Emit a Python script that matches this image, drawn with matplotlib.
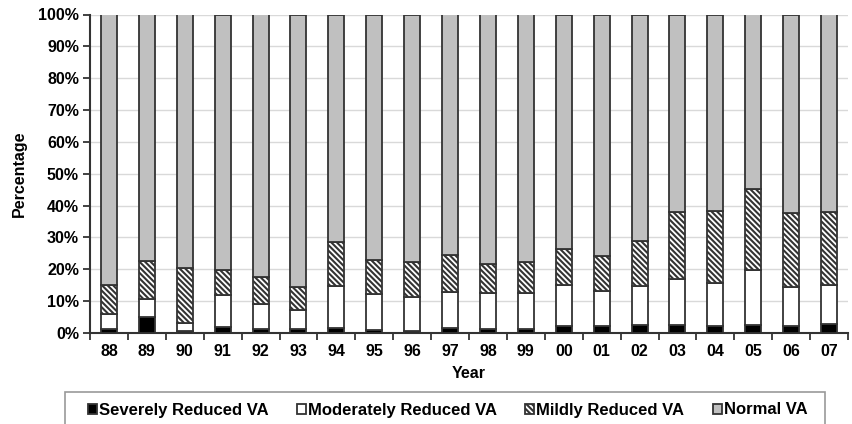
import matplotlib
matplotlib.use("Agg")
import matplotlib.pyplot as plt
from matplotlib.patches import Rectangle
import numpy as np

plt.rcParams['font.family'] = ['Liberation Sans', 'DejaVu Sans']
plt.rcParams['hatch.linewidth'] = 1.5
plt.rcParams['hatch.color'] = '#222222'

years = ["88", "89", "90", "91", "92", "93", "94", "95", "96", "97",
         "98", "99", "00", "01", "02", "03", "04", "05", "06", "07"]
# cumulative tops (%)
severe_top = [1.2, 4.9, 0.7, 1.8, 1.2, 1.1, 1.5, 0.9, 0.7, 1.5,
              1.3, 1.4, 2.1, 2.2, 2.4, 2.4, 2.2, 2.4, 2.2, 2.7]
moderate_top = [6.0, 10.6, 3.0, 11.8, 9.0, 7.2, 14.8, 12.2, 11.4, 12.8,
                12.5, 12.7, 15.1, 13.3, 14.8, 16.9, 15.8, 19.8, 14.4, 15.1]
mild_top = [15.1, 22.7, 20.5, 19.8, 17.6, 14.5, 28.7, 22.9, 22.2, 24.5,
            21.7, 22.3, 26.4, 24.2, 29.0, 37.9, 38.3, 45.2, 37.8, 38.1]

severe = np.array(severe_top)
moderate = np.array(moderate_top) - np.array(severe_top)
mild = np.array(mild_top) - np.array(moderate_top)
normal = 100 - np.array(mild_top)

fig = plt.figure(figsize=(8.52, 4.24), dpi=100)
ax = fig.add_axes([90/852, 1-333/424, (848-90)/852, (333-14.5)/424])

x = np.arange(len(years))
w = 0.42
ec = '#333333'
lw = 1.3
b1 = ax.bar(x, severe, w, color='black', edgecolor=ec, linewidth=lw, label='Severely Reduced VA', zorder=3)
b2 = ax.bar(x, moderate, w, bottom=severe, color='white', edgecolor=ec, linewidth=lw, label='Moderately Reduced VA', zorder=3)
b3 = ax.bar(x, mild, w, bottom=severe+moderate, color='white', edgecolor=ec, linewidth=lw, hatch='\\\\\\\\\\\\', label='Mildly Reduced VA', zorder=3)
b4 = ax.bar(x, normal, w, bottom=severe+moderate+mild, color='#c0c0c0', edgecolor=ec, linewidth=lw, label='Normal VA', zorder=3)

ax.set_xlim(-0.5, len(years)-0.5)
ax.set_ylim(0, 100)
ax.set_yticks(np.arange(0, 101, 10))
ax.set_yticklabels([f"{v}%" for v in range(0, 101, 10)], fontsize=11.5, fontweight='bold')
ax.set_xticks(x)
ax.set_xticklabels(years, fontsize=11.5, fontweight='bold')
ax.tick_params(axis='x', which='major', length=0, pad=8)
ax.set_xticks(np.arange(-0.5, len(years), 1), minor=True)
ax.tick_params(axis='x', which='minor', length=5, width=1.3, color='#333333')
ax.tick_params(axis='y', length=5, width=1.3, color='#333333', pad=3)
ax.yaxis.grid(True, color='#d9d9d9', linewidth=1.0, zorder=0)
ax.set_axisbelow(True)
for s in ['top', 'right']:
    ax.spines[s].set_visible(False)
for s in ['left', 'bottom']:
    ax.spines[s].set_color('#333333')
    ax.spines[s].set_linewidth(1.5)

ax.set_ylabel('Percentage', fontsize=11.5, fontweight='bold', labelpad=8)
ax.set_xlabel('Year', fontsize=11.5, fontweight='bold', labelpad=5)

# legend frame drawn separately (extends past the bottom edge)
fig.patches.append(Rectangle((65/852, -0.02), (825-65)/852, 0.02 + 1-392/424,
                             transform=fig.transFigure, fill=False,
                             edgecolor='#999999', linewidth=1.2))
leg = fig.legend(handles=[b1, b2, b3, b4], loc='center', bbox_to_anchor=(447.5/852, 1-410/424),
                 ncol=4, fontsize=12, frameon=False,
                 handlelength=0.55, handleheight=0.55, handletextpad=0.12, columnspacing=1.7,
                 borderpad=0.2)
for t in leg.get_texts():
    t.set_fontweight('bold')

fig.savefig('out.png', dpi=100)
